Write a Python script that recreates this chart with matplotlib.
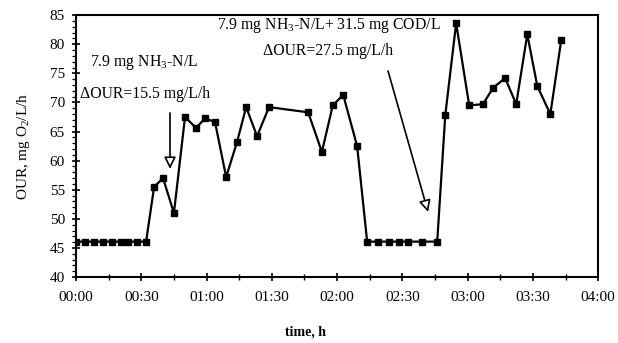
import matplotlib
matplotlib.use("Agg")
import matplotlib.pyplot as plt
from matplotlib.ticker import MultipleLocator

plt.rcParams['font.family'] = ['Liberation Serif', 'DejaVu Serif']
plt.rcParams['mathtext.fontset'] = 'custom'
plt.rcParams['mathtext.rm'] = 'Liberation Serif'
plt.rcParams['mathtext.it'] = 'Liberation Serif:italic'

# time in minutes, OUR in mg O2/L/h
time_min = [0, 4.1, 8.3, 12.4, 16.6, 20.7, 23.9, 28, 32.2,
            35.9, 40, 45, 50.1, 55.2, 59.3, 63.9, 69, 74, 78.2, 83.2,
            88.7, 106.7, 113, 118, 122.8, 129.2,
            133.8, 138.9, 143.9, 148.5, 152.6, 159, 166,
            169.7, 174.7, 180.7, 187, 191.7, 197.2, 202.3, 207.4, 212, 218, 223]
our = [46.1, 46.1, 46.1, 46.1, 46.1, 46.1, 46.1, 46.1, 46.1,
       55.5, 57.0, 51.0, 67.5, 65.6, 67.3, 66.6, 57.2, 63.2, 69.2, 64.2,
       69.2, 68.3, 61.5, 69.5, 71.3, 62.5,
       46.1, 46.1, 46.1, 46.1, 46.1, 46.1, 46.1,
       67.8, 83.6, 69.5, 69.7, 72.5, 74.2, 69.7, 81.7, 72.8, 68.0, 80.7]

x_ticks = [0, 30, 60, 90, 120, 150, 180, 210, 240]
x_tick_labels = ['00:00', '00:30', '01:00', '01:30', '02:00', '02:30', '03:00', '03:30', '04:00']
y_ticks = [40, 45, 50, 55, 60, 65, 70, 75, 80, 85]

fig = plt.figure(figsize=(6.18, 3.43), dpi=100)
ax = fig.add_axes([0.123, 0.192, 0.845, 0.764])

ax.plot(time_min, our, color='black', lw=1.6, marker='s', markersize=3.8,
        markerfacecolor='black', markeredgecolor='black')

ax.set_xlim(0, 240)
ax.set_ylim(40, 85)
ax.set_xticks(x_ticks)
ax.set_xticklabels(x_tick_labels)
ax.set_yticks(y_ticks)
ax.xaxis.set_minor_locator(MultipleLocator(15))
ax.yaxis.set_minor_locator(MultipleLocator(1))
ax.tick_params(axis='both', which='major', direction='inout', length=6, width=1.2,
               labelsize=11, colors='black')
ax.tick_params(axis='x', which='major', pad=7)
ax.tick_params(axis='y', which='major', pad=5)
ax.tick_params(axis='y', which='minor', direction='out', length=3, width=0.9)
ax.tick_params(axis='x', which='minor', direction='inout', length=5, width=1.0)
for s in ax.spines.values():
    s.set_linewidth(1.5)

ax.set_ylabel('OUR, mg O$_2$/L/h', fontsize=11)
ax.yaxis.set_label_coords(-0.085, 0.5)
ax.set_xlabel('time, h', fontsize=10, fontweight='bold')
ax.xaxis.set_label_coords(0.439, -0.183)

# annotations
fs = 11.3
ax.text(6.5, 76.9, '7.9 mg NH$_3$-N/L', fontsize=fs, va='center', ha='left')
ax.text(1.8, 71.5, '\u0394OUR=15.5 mg/L/h', fontsize=fs, va='center', ha='left')
ax.text(65, 83.2, '7.9 mg NH$_3$-N/L+ 31.5 mg COD/L', fontsize=fs, va='center', ha='left')
ax.text(86, 78.9, '\u0394OUR=27.5 mg/L/h', fontsize=fs, va='center', ha='left')

ax.annotate('', xy=(43.2, 58.6), xytext=(43.2, 68.2),
            arrowprops=dict(arrowstyle='-|>,head_length=0.7,head_width=0.35',
                            fc='white', ec='black', lw=1.2, shrinkA=0, shrinkB=0))
ax.annotate('', xy=(161.8, 51.2), xytext=(143.4, 75.4),
            arrowprops=dict(arrowstyle='-|>,head_length=0.7,head_width=0.35',
                            fc='white', ec='black', lw=1.2, shrinkA=0, shrinkB=0))

fig.savefig('out.png', dpi=100)
